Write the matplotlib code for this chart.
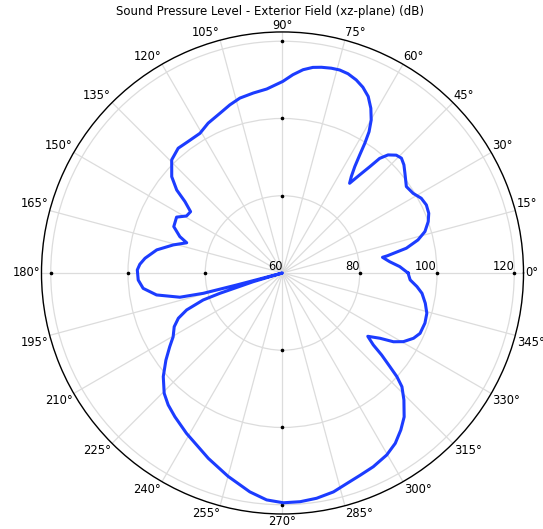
import matplotlib
matplotlib.use("Agg")
import matplotlib.pyplot as plt
import numpy as np

TITLE = "Sound Pressure Level - Exterior Field (xz-plane) (dB)"

# angle (deg) / level (dB)
angle_deg = [0, 3.1, 6.0, 8.9, 9.3, 11.3, 13.7, 16.2, 19.4, 22.2, 25.3, 28.3,
             31.4, 34.9, 39.2, 41.7, 44.0, 46.0, 48.2, 49.7, 50.6, 51.8, 53.2,
             54.5, 55.8, 56.8, 57.6, 58.5, 59.9, 61.8, 64.1, 66.6, 69.1, 71.8,
             74.3, 76.6, 79.3, 81.6, 84.2, 87.0, 89.9, 94.9, 99.2, 103.7,
             107.4, 111.4, 116.4, 120.6, 125.7, 129.9, 134.4, 139.0, 141.9,
             143.8, 146.3, 149.3, 152.2, 156.9, 160.5, 162.5, 165.6, 169.6,
             173.9, 176.5, 178.8, 182.8, 186.3, 189.9, 193.3, 194.4, 194.7,
             196.0, 196.6, 198.0, 198.8, 201.1, 203.5, 206.4, 210.3, 213.2,
             216.8, 221.0, 225.5, 229.1, 233.2, 239.1, 244.1, 248.2, 255.0,
             261.5, 266.0, 270.2, 274.4, 278.6, 283.1, 287.0, 291.0, 295.1,
             299.8, 303.5, 307.0, 310.2, 313.7, 316.4, 317.8, 318.9, 320.4,
             321.6, 323.4, 326.2, 328.2, 330.4, 333.5, 336.3, 340.6, 344.4,
             348.0, 351.7, 354.2, 356.9, 360]
level_db = [92.5, 90.4, 87.9, 86.2, 87.5, 92.7, 96.1, 98.4, 100.0, 100.9,
            101.2, 100.8, 99.6, 99.1, 100.9, 102.1, 102.8, 102.4, 101.0, 98.9,
            95.6, 92.3, 89.0, 90.7, 93.3, 96.5, 99.8, 102.9, 105.8, 108.4,
            110.8, 112.4, 113.5, 114.3, 114.6, 114.5, 114.2, 113.8, 112.9,
            111.4, 109.6, 107.8, 107.2, 106.6, 105.6, 104.4, 103.3, 102.0,
            101.9, 102.1, 101.0, 98.0, 94.8, 91.3, 88.6, 88.9, 91.0, 90.6,
            88.2, 86.0, 89.2, 93.1, 95.8, 97.0, 97.6, 97.4, 96.3, 93.1, 87.3,
            81.2, 72.3, 60.0, 67.9, 77.0, 81.7, 86.6, 89.4, 91.3, 92.8, 94.9,
            97.7, 100.9, 103.7, 105.2, 106.5, 108.4, 110.0, 111.7, 114.5,
            117.3, 118.9, 119.5, 119.4, 119.0, 118.2, 117.0, 116.1, 115.4,
            114.3, 112.9, 110.9, 108.8, 105.5, 102.7, 100.0, 96.9, 93.3, 90.0,
            87.5, 90.4, 93.8, 96.0, 97.9, 98.9, 99.1, 98.8, 97.8, 96.5, 95.0,
            93.1, 92.5]

r_ticks = [80, 100, 120]
r_labels = ["60", "80", "100", "120"]
theta_ticks = np.arange(0, 360, 15)
r_min, r_max = 60, 122.4

fig = plt.figure(figsize=(5.43, 5.29), dpi=100)
ax = fig.add_axes([0.0764, 0.0284, 0.8877, 0.9112], projection="polar")

theta = np.deg2rad(angle_deg)
r = np.maximum(np.array(level_db), r_min)
ax.plot(theta, r, color="#1c3cff", lw=2.2, zorder=5)

ax.set_ylim(r_min, r_max)
ax.set_rticks(r_ticks)
ax.set_yticklabels([])
ax.set_thetagrids(theta_ticks, [""] * len(theta_ticks))
ax.grid(color="#dcdcdc", lw=0.9)
ax.spines["polar"].set_color("black")
ax.spines["polar"].set_linewidth(1.0)

# angle labels anchored just outside the rim
for t in theta_ticks:
    c, s = np.cos(np.deg2rad(t)), np.sin(np.deg2rad(t))
    ha = "left" if c > 0.01 else ("right" if c < -0.01 else "center")
    va = "bottom" if s > 0.01 else ("top" if s < -0.01 else "center")
    off = 0.0 if t == 90 else 1.0
    ax.annotate(f"{t}°", xy=(np.deg2rad(t), r_max), xytext=(off * c, off * s),
                textcoords="offset points", ha=ha, va=va, fontsize=8.3,
                annotation_clip=False)

# radial labels along the 0° line
for val, lab in zip([r_min] + r_ticks, r_labels):
    ax.text(0, val, lab, ha="right", va="bottom", fontsize=8.3, zorder=6)

# small tick dots on the main axes
for a in [0, 90, 180, 270]:
    ax.plot(np.full(len(r_ticks), np.deg2rad(a)), r_ticks, "o", ms=1.6,
            color="black", zorder=4)

fig.text(0.497, 1 - 15.0 / 529, TITLE, ha="center", va="baseline",
         fontsize=8.5)

fig.savefig("out.png", dpi=100)
